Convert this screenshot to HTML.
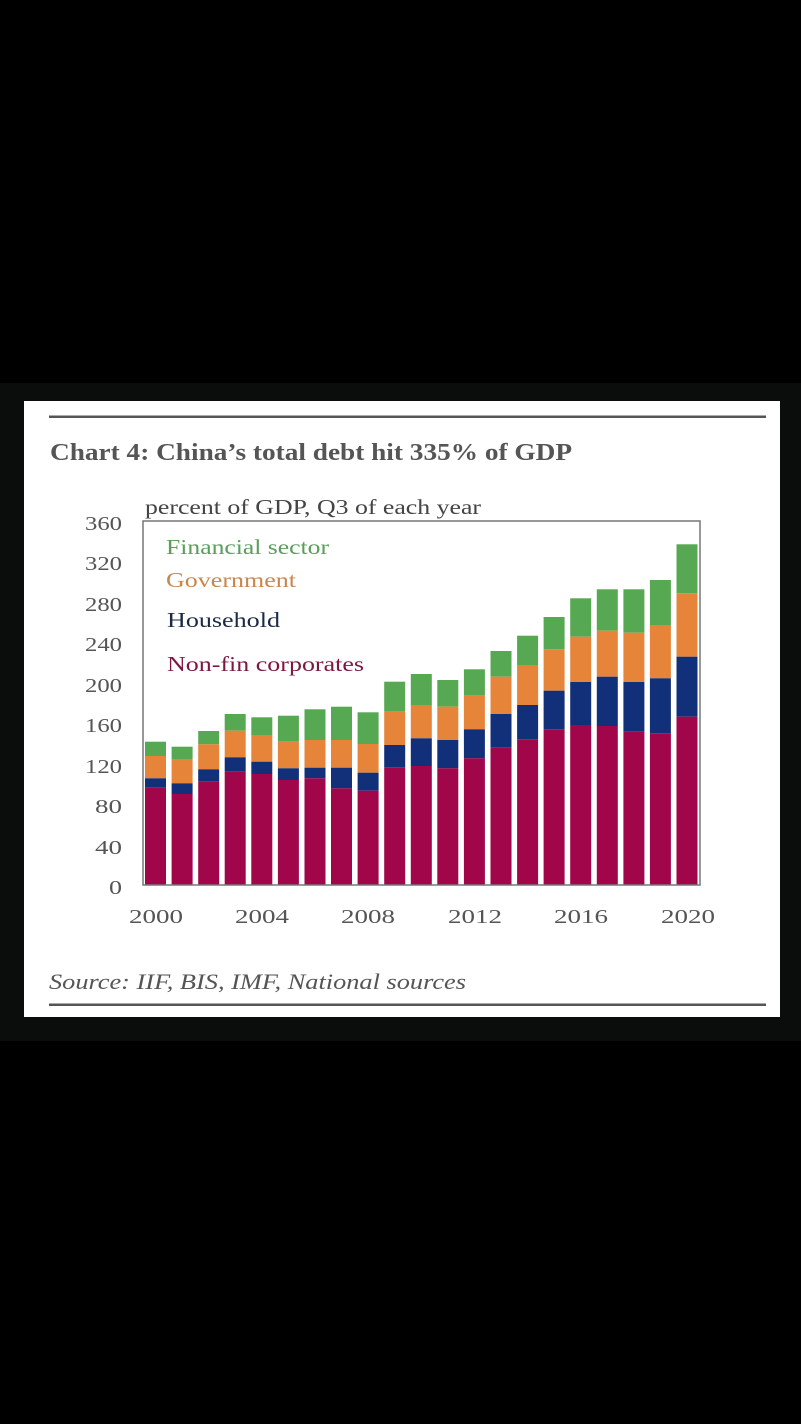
<!DOCTYPE html>
<html><head><meta charset="utf-8"><style>
html,body{margin:0;padding:0;background:#000;}
svg{display:block;}
</style></head><body>
<svg width="801" height="1424" viewBox="0 0 801 1424" xmlns="http://www.w3.org/2000/svg">
<rect x="0" y="0" width="801" height="1424" fill="#000"/>
<rect x="0" y="383" width="801" height="658" fill="#0b0c0c"/>
<rect x="24" y="401" width="756" height="616" fill="#fff"/>
<rect x="49" y="415.5" width="717" height="2.5" fill="#555"/>
<rect x="49" y="1003.5" width="717" height="2.5" fill="#555"/>
<g font-family="Liberation Serif, serif">
<text x="50" y="460" font-size="24" font-weight="bold" fill="#555" textLength="522" lengthAdjust="spacingAndGlyphs">Chart 4:  China’s total debt hit 335% of GDP</text>
<text x="145" y="514" font-size="21" fill="#444" textLength="336" lengthAdjust="spacingAndGlyphs">percent of GDP, Q3  of each year</text>
<text x="49" y="989" font-size="22" font-style="italic" fill="#555" textLength="417" lengthAdjust="spacingAndGlyphs">Source: IIF, BIS, IMF, National sources</text>
</g>
<g>
<g fill="#57a852">
<rect x="145.0" y="741.7" width="21" height="14.3"/>
<rect x="171.6" y="746.7" width="21" height="12.3"/>
<rect x="198.2" y="731.0" width="21" height="13.3"/>
<rect x="224.7" y="714.0" width="21" height="16.7"/>
<rect x="251.3" y="717.3" width="21" height="17.7"/>
<rect x="277.9" y="715.7" width="21" height="26.0"/>
<rect x="304.5" y="709.3" width="21" height="30.7"/>
<rect x="331.0" y="706.7" width="21" height="33.3"/>
<rect x="357.6" y="712.3" width="21" height="31.7"/>
<rect x="384.2" y="681.7" width="21" height="30.0"/>
<rect x="410.8" y="674.0" width="21" height="31.0"/>
<rect x="437.3" y="680.0" width="21" height="26.7"/>
<rect x="463.9" y="669.3" width="21" height="26.4"/>
<rect x="490.5" y="651.0" width="21" height="25.7"/>
<rect x="517.1" y="635.7" width="21" height="29.3"/>
<rect x="543.6" y="617.0" width="21" height="32.3"/>
<rect x="570.2" y="598.3" width="21" height="38.4"/>
<rect x="596.8" y="589.3" width="21" height="41.4"/>
<rect x="623.4" y="589.3" width="21" height="43.4"/>
<rect x="649.9" y="580.0" width="21" height="45.0"/>
<rect x="676.5" y="544.3" width="21" height="49.0"/>
</g>
<g fill="#e6843a">
<rect x="145.0" y="756.0" width="21" height="22.3"/>
<rect x="171.6" y="759.0" width="21" height="24.3"/>
<rect x="198.2" y="744.3" width="21" height="25.0"/>
<rect x="224.7" y="730.7" width="21" height="26.6"/>
<rect x="251.3" y="735.0" width="21" height="26.7"/>
<rect x="277.9" y="741.7" width="21" height="26.6"/>
<rect x="304.5" y="740.0" width="21" height="27.7"/>
<rect x="331.0" y="740.0" width="21" height="27.7"/>
<rect x="357.6" y="744.0" width="21" height="28.7"/>
<rect x="384.2" y="711.7" width="21" height="33.3"/>
<rect x="410.8" y="705.0" width="21" height="33.3"/>
<rect x="437.3" y="706.7" width="21" height="33.3"/>
<rect x="463.9" y="695.7" width="21" height="33.6"/>
<rect x="490.5" y="676.7" width="21" height="37.3"/>
<rect x="517.1" y="665.0" width="21" height="40.0"/>
<rect x="543.6" y="649.3" width="21" height="41.4"/>
<rect x="570.2" y="636.7" width="21" height="45.3"/>
<rect x="596.8" y="630.7" width="21" height="46.0"/>
<rect x="623.4" y="632.7" width="21" height="49.3"/>
<rect x="649.9" y="625.0" width="21" height="53.3"/>
<rect x="676.5" y="593.3" width="21" height="63.4"/>
</g>
<g fill="#12307a">
<rect x="145.0" y="778.3" width="21" height="9.4"/>
<rect x="171.6" y="783.3" width="21" height="10.7"/>
<rect x="198.2" y="769.3" width="21" height="12.4"/>
<rect x="224.7" y="757.3" width="21" height="14.4"/>
<rect x="251.3" y="761.7" width="21" height="12.3"/>
<rect x="277.9" y="768.3" width="21" height="11.7"/>
<rect x="304.5" y="767.7" width="21" height="10.6"/>
<rect x="331.0" y="767.7" width="21" height="20.6"/>
<rect x="357.6" y="772.7" width="21" height="18.0"/>
<rect x="384.2" y="745.0" width="21" height="22.3"/>
<rect x="410.8" y="738.3" width="21" height="27.7"/>
<rect x="437.3" y="740.0" width="21" height="28.3"/>
<rect x="463.9" y="729.3" width="21" height="29.0"/>
<rect x="490.5" y="714.0" width="21" height="33.7"/>
<rect x="517.1" y="705.0" width="21" height="34.3"/>
<rect x="543.6" y="690.7" width="21" height="38.6"/>
<rect x="570.2" y="682.0" width="21" height="43.0"/>
<rect x="596.8" y="676.7" width="21" height="49.3"/>
<rect x="623.4" y="682.0" width="21" height="49.7"/>
<rect x="649.9" y="678.3" width="21" height="55.0"/>
<rect x="676.5" y="656.7" width="21" height="60.0"/>
</g>
<g fill="#a1064b">
<rect x="145.0" y="787.7" width="21" height="97.3"/>
<rect x="171.6" y="794.0" width="21" height="91.0"/>
<rect x="198.2" y="781.7" width="21" height="103.3"/>
<rect x="224.7" y="771.7" width="21" height="113.3"/>
<rect x="251.3" y="774.0" width="21" height="111.0"/>
<rect x="277.9" y="780.0" width="21" height="105.0"/>
<rect x="304.5" y="778.3" width="21" height="106.7"/>
<rect x="331.0" y="788.3" width="21" height="96.7"/>
<rect x="357.6" y="790.7" width="21" height="94.3"/>
<rect x="384.2" y="767.3" width="21" height="117.7"/>
<rect x="410.8" y="766.0" width="21" height="119.0"/>
<rect x="437.3" y="768.3" width="21" height="116.7"/>
<rect x="463.9" y="758.3" width="21" height="126.7"/>
<rect x="490.5" y="747.7" width="21" height="137.3"/>
<rect x="517.1" y="739.3" width="21" height="145.7"/>
<rect x="543.6" y="729.3" width="21" height="155.7"/>
<rect x="570.2" y="725.0" width="21" height="160.0"/>
<rect x="596.8" y="726.0" width="21" height="159.0"/>
<rect x="623.4" y="731.7" width="21" height="153.3"/>
<rect x="649.9" y="733.3" width="21" height="151.7"/>
<rect x="676.5" y="716.7" width="21" height="168.3"/>
</g>
</g>
<rect x="143" y="521" width="557" height="364" fill="none" stroke="#777" stroke-width="1.5"/>
<g font-family="Liberation Serif, serif" font-size="20" fill="#555" text-anchor="end">
<text x="122" y="530" textLength="37" lengthAdjust="spacingAndGlyphs">360</text>
<text x="122" y="570" textLength="37" lengthAdjust="spacingAndGlyphs">320</text>
<text x="122" y="611" textLength="37" lengthAdjust="spacingAndGlyphs">280</text>
<text x="122" y="651" textLength="37" lengthAdjust="spacingAndGlyphs">240</text>
<text x="122" y="692" textLength="37" lengthAdjust="spacingAndGlyphs">200</text>
<text x="122" y="732" textLength="37" lengthAdjust="spacingAndGlyphs">160</text>
<text x="122" y="773" textLength="37" lengthAdjust="spacingAndGlyphs">120</text>
<text x="122" y="813" textLength="27" lengthAdjust="spacingAndGlyphs">80</text>
<text x="122" y="854" textLength="27" lengthAdjust="spacingAndGlyphs">40</text>
<text x="122" y="894" textLength="13" lengthAdjust="spacingAndGlyphs">0</text>
</g>
<g font-family="Liberation Serif, serif" font-size="20" fill="#555" text-anchor="middle">
<text x="156" y="923" textLength="54" lengthAdjust="spacingAndGlyphs">2000</text>
<text x="262" y="923" textLength="54" lengthAdjust="spacingAndGlyphs">2004</text>
<text x="368" y="923" textLength="54" lengthAdjust="spacingAndGlyphs">2008</text>
<text x="475" y="923" textLength="54" lengthAdjust="spacingAndGlyphs">2012</text>
<text x="581" y="923" textLength="54" lengthAdjust="spacingAndGlyphs">2016</text>
<text x="688" y="923" textLength="54" lengthAdjust="spacingAndGlyphs">2020</text>
</g>
<g font-family="Liberation Serif, serif" font-size="21">
<text x="166" y="554" fill="#5a9e5a" textLength="163" lengthAdjust="spacingAndGlyphs">Financial sector</text>
<text x="166" y="587" fill="#c8874e" textLength="130" lengthAdjust="spacingAndGlyphs">Government</text>
<text x="167" y="627" fill="#1c2a48" textLength="113" lengthAdjust="spacingAndGlyphs">Household</text>
<text x="167" y="671" fill="#7c1742" textLength="197" lengthAdjust="spacingAndGlyphs">Non-fin corporates</text>
</g>
</svg>
</body></html>
